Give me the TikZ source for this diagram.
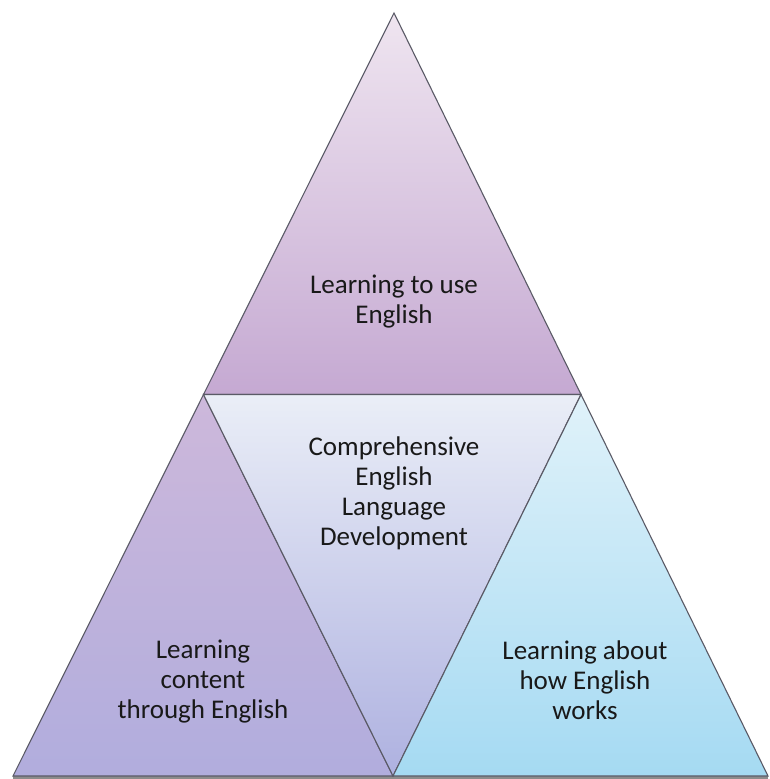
\documentclass[tikz,border=0pt]{standalone}
\usepackage{fontspec}
\setmainfont{Carlito}
\definecolor{topA}{HTML}{EFE5F0}
\definecolor{topB}{HTML}{C5A9D2}
\definecolor{leftA}{HTML}{CDB8DB}
\definecolor{leftB}{HTML}{B1ADDD}
\definecolor{midA}{HTML}{EAEEF7}
\definecolor{midB}{HTML}{AEB1E0}
\definecolor{rightA}{HTML}{E0F2FA}
\definecolor{rightB}{HTML}{A5DAF2}
\definecolor{edge}{HTML}{5A5A66}
\tikzset{
  tri/.style={draw=edge, line width=1.1pt, line join=miter},
  lbl/.style={align=center, font=\fontsize{27}{30}\selectfont, text=black!90},
}
\begin{document}
\begin{tikzpicture}[x=1pt,y=-1pt]
\useasboundingbox (0,0) rectangle (770,779);
\coordinate (apex) at (394,13);
\coordinate (bl) at (13,776);
\coordinate (br) at (768,776);
\coordinate (bm) at (393,776);
\coordinate (ml) at (203.5,394.5);
\coordinate (mr) at (581,394.5);
% shadow
\fill[black!45] (13,776) rectangle (768,779);
% triangles
\shade[tri, top color=topA, bottom color=topB] (apex) -- (mr) -- (ml) -- cycle;
\shade[tri, top color=leftA, bottom color=leftB] (ml) -- (bm) -- (bl) -- cycle;
\shade[tri, top color=midA, bottom color=midB] (ml) -- (mr) -- (bm) -- cycle;
\shade[tri, top color=rightA, bottom color=rightB] (mr) -- (br) -- (bm) -- cycle;
% labels
\node[lbl] (t1) at (394,302) {Learning to use\\English};
\node[lbl] (t2) at (394,493) {Comprehensive\\English\\Language\\Development};
\node[lbl] (t3) at (203,682) {Learning\\content\\through English};
\node[lbl] (t4) at (585,680) {Learning about\\how English\\works};
\end{tikzpicture}
\end{document}
